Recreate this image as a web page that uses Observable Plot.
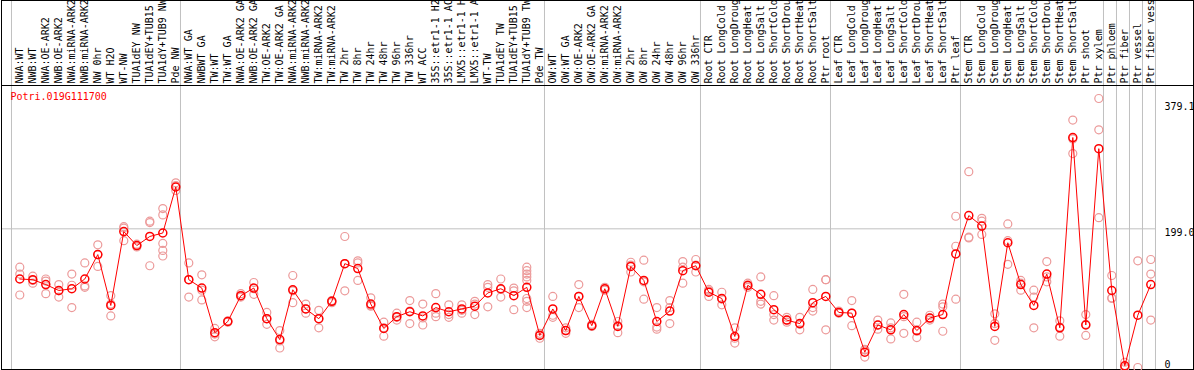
<!DOCTYPE html>
<html><head><meta charset="utf-8">
<script src="https://cdn.jsdelivr.net/npm/d3@7"></script>
<script src="https://cdn.jsdelivr.net/npm/@observablehq/plot@0.6"></script>
<style>body{margin:0;background:#fff;} svg{display:block}</style>
</head><body><div id="chart"></div>
<script>
const geneId = "Potri.019G111700";
const labels = [
"NWA:WT","NWB:WT","NWA:OE-ARK2","NWB:OE-ARK2","NWA:miRNA-ARK2","NWB:miRNA-ARK2","NW 0hr","WT H2O","WT-NW","TUA1dEY NW","TUA1dEY+TUB15","TUA1dY+TUB9 NW","Pde NW",
"NWA:WT GA","NWBWT GA","TW:WT","TW:WT GA","NWA:OE-ARK2 GA","NWB:OE-ARK2 GA","TW:OE-ARK2","TW:OE-ARK2 GA","NWA:miRNA-ARK2","NWB:miRNA-ARK2","TW:miRNA-ARK2","TW:miRNA-ARK2","TW 2hr","TW 8hr","TW 24hr","TW 48hr","TW 96hr","TW 336hr","WT ACC","35S::etr1-1 H2","35S::etr1-1 AC","LMX5::etr1-1 H","LMX5::etr1-1 A","WT-TW","TUA1dEY TW","TUA1dEY+TUB15","TUA1dY+TUB9 TW","Pde TW",
"OW:WT","OW:WT GA","OW:OE-ARK2","OW:OE-ARK2 GA","OW:miRNA-ARK2","OW:miRNA-ARK2","OW 2hr","OW 8hr","OW 24hr","OW 48hr","OW 96hr","OW 336hr",
"Root CTR","Root LongCold","Root LongDroug","Root LongHeat","Root LongSalt","Root ShortCold","Root ShortDrou","Root ShortHeat","Root ShortSalt","Ptr root",
"Leaf CTR","Leaf LongCold","Leaf LongDroug","Leaf LongHeat","Leaf LongSalt","Leaf ShortCold","Leaf ShortDrou","Leaf ShortHeat","Leaf ShortSalt","Ptr leaf",
"Stem CTR","Stem LongCold","Stem LongDroug","Stem LongHeat","Stem LongSalt","Stem ShortCold","Stem ShortDrou","Stem ShortHeat","Stem ShortSalt","Ptr shoot","Ptr xylem",
"Ptr phloem","Ptr fiber","Ptr vessel","Ptr fiber vess"
];
const means = [
127,126,119,110.5,113,127,162,89,195,175,188,193,259,
126,114,50,66,103,114,70,40,111.5,84,70,95,149,142,91,56,73,80,74,86,80,84,88,107,113,103,115,46,
84,53,102,60,113,59,145,125,66,81,139,146,
108,99,44.5,118,105,83,68,63,93,102,
79,78,22,61,54,76,53,71,76,163,
218,203,59,179,119,89,134,57,330,61,314,
110.5,2.5,75,119
];
const reps = [
[144,134,104],[131,125,121],[127,124,106],[119,110,101],[134,118,86],[150,117,115],[176,162,145],[103,91,74],[202,200,182],[177,175,173],[210,208,146],[228,219,178,168,160],[265,261,254],
[150,126,101],[133,111,97],[56,48,44],[67,66,65],[106,103,101],[122,113,105],[79,70,62],[53,38,28],[132,110,93],[91,84,78],[82,70,57],[96,95,93],[188,149,110],[153,150,125],[100,89,88],[65,57,45],[78,72,68],[96,81,63],[91,71,61],[106,78,73],[90,76,72],[90,82,78],[95,91,76],[119,115,87],[127,112,101],[114,110,83],[144,139,134,130,125,99,95,86],[49,47,42],
[102,75,72],[57,53,49],[119,102,86],[62,60,59],[115,113,111],[66,60,50],[151,147,137],[154,123,98],[86,58,55],[96,86,63],[152,144,121],[155,147,137],
[112,110,102],[108,98,90],[57,42,35],[121,117,115],[130,95,91],[103,76,68],[72,68,65],[72,62,54],[112,86,81],[126,126,54],
[81,79,78],[96,78,60],[26,25,15],[68,61,55],[64,57,41],[105,73,49],[65,52,43],[75,71,68],[91,87,52],[217,174,98],
[281,187,186],[214,210,191],[77,63,39],[206,182,148],[125,121,111],[111,101,57],[152,130,123],[67,58,45],[355,328,307],[76,62,46],[386,341,215],
[132,100,99],[7.5,0,0],[153,0],[155,134,68]
];
const groupStarts = [0,13,41,53,63,73,84,85,86,87,88];
const yTickValues = [379.1, 199.0, 0];
const yTickLabels = ["379.1","199.0","0"];

const idx = d3.range(labels.length);
const meanData = idx.map(i => ({i, v: means[i]}));
const repData = idx.flatMap(i => reps[i].map(v => ({i, v})));

const chart = Plot.plot({
  width: 1194, height: 370,
  marginTop: 85, marginBottom: 1, marginLeft: 1, marginRight: 1,
  style: {fontFamily: "'DejaVu Sans Mono', monospace", fontSize: "10px", background: "white"},
  x: {domain: [0, 87], range: [19.3, 1150.3], axis: null},
  y: {domain: [0, 379.1], range: [367, 102.8], axis: null},
  marks: [
    Plot.ruleX(groupStarts, {x: d => d - 0.64, stroke: "#c0c0c0", strokeOpacity: 1, insetTop: -85}),
    Plot.ruleY([yTickValues[1]], {stroke: "#c0c0c0", strokeOpacity: 1, insetRight: 38}),
    Plot.frame({stroke: "black", insetTop: -85}),
    Plot.frame({stroke: "black"}),
    Plot.text(idx, {x: d => d, text: d => labels[d], frameAnchor: "top", dy: -2, rotate: -90, textAnchor: "start", lineAnchor: "middle", fill: "black"}),
    Plot.text([geneId], {text: d => d, frameAnchor: "top-left", dx: 9, dy: 11, fill: "red", textAnchor: "start", lineAnchor: "middle"}),
    Plot.text([0, 1], {y: i => yTickValues[i], text: i => yTickLabels[i], frameAnchor: "right", dx: -29, textAnchor: "start", lineAnchor: "top", fill: "black"}),
    Plot.text([2], {y: i => yTickValues[i], text: i => yTickLabels[i], frameAnchor: "right", dx: -29, textAnchor: "start", lineAnchor: "bottom", fill: "black"}),
    Plot.dot(repData, {x: "i", y: "v", r: 4, stroke: "#ec9a9a", strokeWidth: 1.2}),
    Plot.line(meanData, {x: "i", y: "v", stroke: "red", strokeWidth: 1}),
    Plot.dot(meanData, {x: "i", y: "v", r: 4, stroke: "red", strokeWidth: 1.5})
  ]
});
document.getElementById("chart").appendChild(chart);
</script>
</body></html>
